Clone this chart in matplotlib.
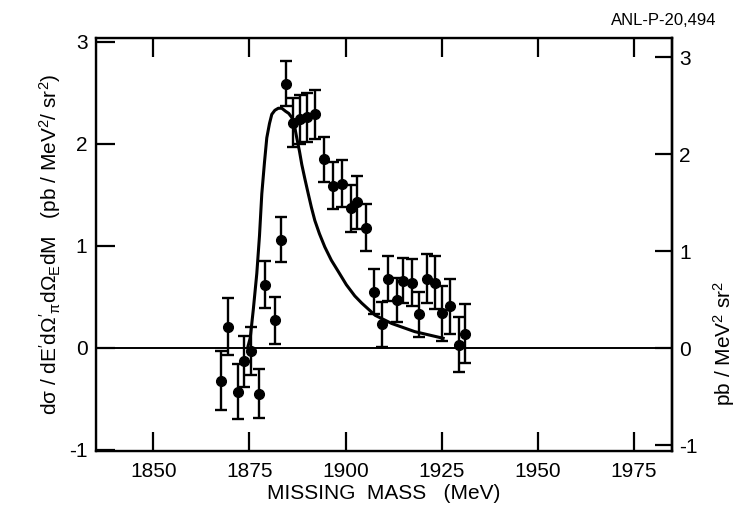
import matplotlib.pyplot as plt

plt.rcParams['font.family'] = ['Liberation Sans', 'DejaVu Sans']
plt.rcParams['axes.unicode_minus'] = False
plt.rcParams['mathtext.fontset'] = 'custom'
plt.rcParams['mathtext.rm'] = 'Liberation Sans'
plt.rcParams['mathtext.it'] = 'Liberation Sans'

# measured cross section vs missing mass
mass = [1867.6, 1869.3, 1871.9, 1873.5, 1875.3, 1877.6, 1879.0, 1881.6, 1883.1,
        1884.4, 1886.4, 1888.2, 1890.0, 1892.0, 1894.5, 1896.7, 1899.0, 1901.3,
        1903.1, 1905.2, 1907.5, 1909.4, 1911.1, 1913.3, 1915.0, 1917.4, 1919.1,
        1921.3, 1923.4, 1925.2, 1927.3, 1929.5, 1931.2]
xsec = [-0.32, 0.21, -0.43, -0.13, -0.03, -0.45, 0.62, 0.27, 1.06,
        2.59, 2.21, 2.24, 2.26, 2.29, 1.85, 1.59, 1.61, 1.37,
        1.43, 1.18, 0.55, 0.23, 0.68, 0.47, 0.66, 0.64, 0.33,
        0.68, 0.64, 0.34, 0.41, 0.03, 0.14]
err = [0.29, 0.28, 0.27, 0.25, 0.24, 0.24, 0.23, 0.23, 0.22,
       0.22, 0.24, 0.24, 0.24, 0.24, 0.22, 0.23, 0.23, 0.23,
       0.26, 0.23, 0.22, 0.22, 0.22, 0.22, 0.22, 0.23, 0.22,
       0.24, 0.26, 0.27, 0.27, 0.27, 0.29]

# model curve
curve_m = [1874.5, 1875.2, 1876.0, 1876.9, 1877.6, 1878.2, 1878.9, 1879.5, 1880.2,
           1880.8, 1881.6, 1882.5, 1883.4, 1884.4, 1885.2, 1886.0, 1886.7, 1887.3,
           1888.0, 1888.6, 1889.4, 1890.3, 1891.1, 1892.0, 1893.2, 1894.6, 1896.3,
           1898.1, 1900.2, 1902.4, 1904.2, 1907.7, 1912.0, 1918.0, 1925.4]
curve_y = [0.0, 0.10, 0.38, 0.73, 1.10, 1.51, 1.82, 2.06, 2.20,
           2.29, 2.33, 2.35, 2.35, 2.32, 2.30, 2.26, 2.18, 2.06,
           1.93, 1.80, 1.66, 1.51, 1.38, 1.25, 1.12, 0.99, 0.86,
           0.75, 0.62, 0.51, 0.44, 0.32, 0.24, 0.16, 0.095]

xticks = [1850, 1875, 1900, 1925, 1950, 1975]
yticks = [-1, 0, 1, 2, 3]

fig = plt.figure(figsize=(7.37, 5.05), dpi=100)
ax = fig.add_axes([0.130, 0.107, 0.782, 0.818])

ax.plot(curve_m, curve_y, color='black', lw=2.2)
ax.errorbar(mass, xsec, yerr=err, fmt='o', color='black', ms=7,
            elinewidth=1.7, capsize=4, capthick=1.7)
ax.axhline(0, color='black', lw=1.4)

ax.set_xlim(1835, 1985)
ax.set_ylim(-1.01, 3.04)
ax.set_xticks(xticks)
ax.set_yticks(yticks)
ax.set_yticklabels([str(t) for t in yticks])
ax.tick_params(axis='x', direction='in', length=14, width=1.6, top=True,
               labelsize=15, pad=8)
ax.tick_params(axis='y', direction='in', length=14, width=1.6, right=False,
               labelsize=15, pad=6)
for s in ax.spines.values():
    s.set_linewidth(1.7)

ax.set_xlabel('MISSING  MASS   (MeV)', fontsize=15, labelpad=2)
ax.set_ylabel(r"d$\sigma$ / dE$'$d$\Omega'_\pi$d$\Omega_E$dM   (pb / MeV$^2$/ sr$^2$)",
              fontsize=15, labelpad=4)

# right-hand scale
ax2 = ax.twinx()
ax2.set_ylim(-1.06, 3.2)
ax2.set_yticks(yticks)
ax2.set_yticklabels([str(t) for t in yticks])
ax2.tick_params(axis='y', direction='in', length=12, width=1.6, labelsize=15, pad=5)
ax2.spines['right'].set_linewidth(1.7)
ax2.set_ylabel(r"pb / MeV$^2$ sr$^2$", fontsize=15)
ax2.yaxis.set_label_coords(1.068, 0.26)

fig.text(0.972, 0.975, 'ANL-P-20,494', ha='right', va='top', fontsize=12)

fig.savefig('out.png', dpi=100)
